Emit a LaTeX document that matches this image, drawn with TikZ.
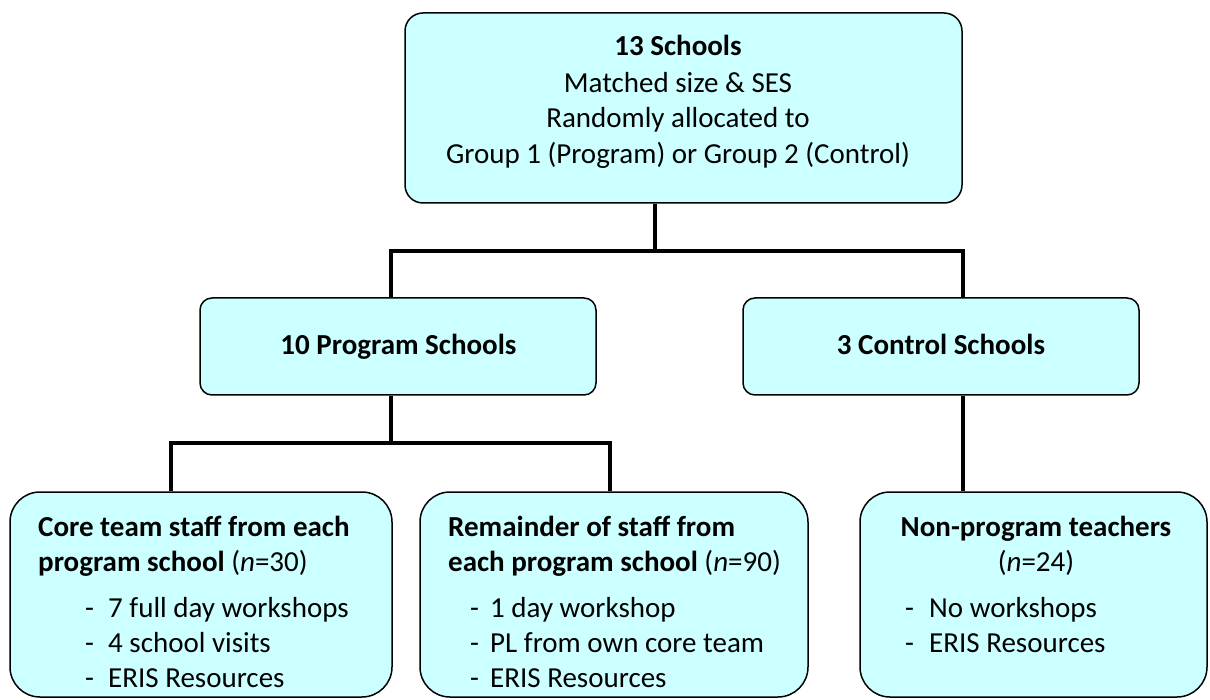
\documentclass[tikz,border=0pt]{standalone}
\usepackage{fontspec}
\setmainfont{Carlito}
\definecolor{boxfill}{HTML}{CCFFFF}
\begin{document}
\begin{tikzpicture}[x=1pt,y=-1pt,
  boxshape/.style={draw=black, line width=1.5pt, fill=boxfill, rectangle, inner sep=0pt},
  conn/.style={line width=4.5pt, black, line join=miter},
  ctxt/.style={inner sep=0pt, anchor=base, font=\fontsize{29}{34}\selectfont},
  ltxt/.style={inner sep=0pt, anchor=base west, font=\fontsize{29}{34}\selectfont},
  btxt/.style={inner sep=0pt, anchor=base, font=\fontsize{29}{34}\selectfont},
]
\useasboundingbox (0,0) rectangle (1210,700);

% boxes
\node[boxshape, rounded corners=18pt, minimum width=557pt, minimum height=190pt] (top) at (683.5,108) {};
\node[boxshape, rounded corners=12pt, minimum width=396pt, minimum height=97pt] (prog) at (398,346.5) {};
\node[boxshape, rounded corners=12pt, minimum width=396pt, minimum height=97pt] (ctrl) at (941,346.5) {};
\node[boxshape, rounded corners=30pt, minimum width=382pt, minimum height=205pt] (b1) at (201,594.5) {};
\node[boxshape, rounded corners=30pt, minimum width=388pt, minimum height=205pt] (b2) at (614,594.5) {};
\node[boxshape, rounded corners=30pt, minimum width=347pt, minimum height=205pt] (b3) at (1033.5,594.5) {};

% junction coordinates
\coordinate (j1) at (655,251);
\coordinate (hl) at (391,251);
\coordinate (hr) at (963,251);
\coordinate (p1) at (391,443);
\coordinate (bl) at (171,443);
\coordinate (br) at (610,443);

% connectors
\draw[conn] (top.south -| j1) -- (j1);
\draw[conn] (prog.north -| hl) -- (hl) -- (hr) -- (ctrl.north -| hr);
\draw[conn] (ctrl.south -| hr) -- (b3.north -| hr);
\draw[conn] (prog.south -| p1) -- (p1);
\draw[conn] (b1.north -| bl) -- (bl) -- (br) -- (b2.north -| br);

% top box text
\node[ctxt] (t1) at (678,56) {\bfseries 13 Schools};
\node[ctxt] (t2) at (678,93) {Matched size \& SES};
\node[ctxt] (t3) at (678,128) {Randomly allocated to};
\node[ctxt] (t4) at (678,164) {Group 1 (Program) or Group 2 (Control)};

% middle
\node[btxt] (pt) at (398.5,355) {\bfseries 10 Program Schools};
\node[btxt] (ct) at (941,355) {\bfseries 3 Control Schools};

% bottom 1
\node[ltxt] (a1) at (38,536) {\bfseries Core team staff from each};
\node[ltxt] (a2) at (38,571) {\textbf{program school} (\textit{n}=30)};
\node[ltxt] (a3) at (85,617) {\makebox[23pt][l]{-}7 full day workshops};
\node[ltxt] (a4) at (85,652) {\makebox[23pt][l]{-}4 school visits};
\node[ltxt] (a5) at (85,687) {\makebox[23pt][l]{-}ERIS Resources};

% bottom 2
\node[ltxt] (c1) at (448,536) {\bfseries Remainder of staff from};
\node[ltxt] (c2) at (448,571) {\textbf{each program school} (\textit{n}=90)};
\node[ltxt] (c3) at (470,617) {\makebox[20pt][l]{-}1 day workshop};
\node[ltxt] (c4) at (470,652) {\makebox[20pt][l]{-}PL from own core team};
\node[ltxt] (c5) at (470,687) {\makebox[20pt][l]{-}ERIS Resources};

% bottom 3
\node[btxt] (d1) at (1036,536) {\bfseries Non-program teachers};
\node[btxt] (d2) at (1036,571) {(\textit{n}=24)};
\node[ltxt] (d3) at (905,617) {\makebox[24pt][l]{-}No workshops};
\node[ltxt] (d4) at (905,652) {\makebox[24pt][l]{-}ERIS Resources};
\end{tikzpicture}
\end{document}
